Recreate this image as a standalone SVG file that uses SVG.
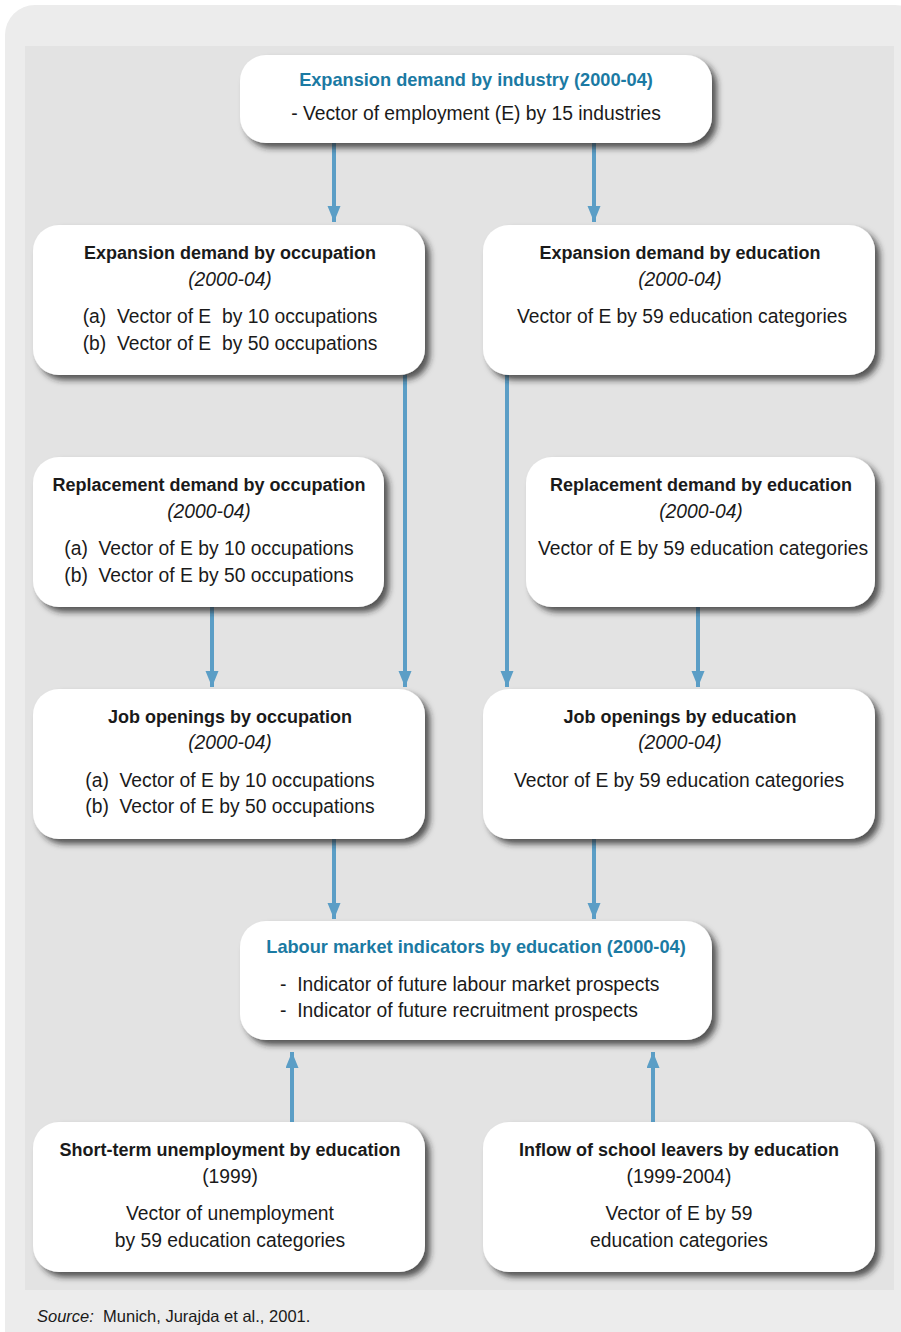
<svg xmlns="http://www.w3.org/2000/svg" width="901" height="1332" viewBox="0 0 901 1332">
<style>
text{font-family:"Liberation Sans",Arial,sans-serif;font-size:19.3px;fill:#1a1a1a;white-space:pre}
.t{font-weight:bold;font-size:18px}
.b{font-weight:bold;font-size:18.2px;fill:#1b7aa3}
.i{font-style:italic}
.c{text-anchor:middle}
.box{fill:#fff;filter:url(#sh)}
.arr{stroke:#5b9ec6;stroke-width:4;fill:none;marker-end:url(#ah)}
</style>
<defs>
<filter id="sh" x="-10%" y="-10%" width="125%" height="130%">
<feDropShadow dx="5" dy="5" stdDeviation="3" flood-color="#222" flood-opacity="0.75"/>
</filter>
<marker id="ah" markerWidth="18" markerHeight="14" refX="16" refY="6.5" orient="auto" markerUnits="userSpaceOnUse" viewBox="0 0 18 14">
<path d="M0,0 L16,6.5 L0,13 Z" fill="#5b9ec6"/>
</marker>
</defs>
<rect x="5" y="5" width="920" height="1360" rx="30" fill="#ececec"/>
<rect x="25" y="46" width="869" height="1244" fill="#e3e3e3"/>
<g id="connectors">
<line class="arr" x1="334" y1="143" x2="334" y2="222"/>
<line class="arr" x1="594" y1="143" x2="594" y2="222"/>
<line class="arr" x1="405" y1="375" x2="405" y2="687"/>
<line class="arr" x1="507" y1="375" x2="507" y2="687"/>
<line class="arr" x1="212" y1="607" x2="212" y2="687"/>
<line class="arr" x1="698" y1="607" x2="698" y2="687"/>
<line class="arr" x1="334" y1="839" x2="334" y2="919"/>
<line class="arr" x1="594" y1="839" x2="594" y2="919"/>
<line class="arr" x1="292" y1="1122" x2="292" y2="1052"/>
<line class="arr" x1="653" y1="1122" x2="653" y2="1052"/>
</g>
<g id="n-industry">
<rect class="box" x="240" y="55" width="472" height="88" rx="26"/>
<text class="b c" x="476" y="86">Expansion demand by industry (2000-04)</text>
<text class="c" x="476" y="120">- Vector of employment (E) by 15 industries</text>
</g>
<g id="n-exp-occ">
<rect class="box" x="33" y="225" width="392" height="150" rx="26"/>
<text class="t c" x="230" y="259">Expansion demand by occupation</text>
<text class="i c" x="230" y="286">(2000-04)</text>
<text class="c" x="230" y="323">(a)  Vector of E  by 10 occupations</text>
<text class="c" x="230" y="350">(b)  Vector of E  by 50 occupations</text>
</g>
<g id="n-exp-edu">
<rect class="box" x="483" y="225" width="392" height="150" rx="26"/>
<text class="t c" x="680" y="259">Expansion demand by education</text>
<text class="i c" x="680" y="286">(2000-04)</text>
<text class="c" x="682" y="323">Vector of E by 59 education categories</text>
</g>
<g id="n-rep-occ">
<rect class="box" x="33" y="457" width="351" height="150" rx="26"/>
<text class="t c" x="209" y="491">Replacement demand by occupation</text>
<text class="i c" x="209" y="518">(2000-04)</text>
<text class="c" x="209" y="555">(a)  Vector of E by 10 occupations</text>
<text class="c" x="209" y="582">(b)  Vector of E by 50 occupations</text>
</g>
<g id="n-rep-edu">
<rect class="box" x="526" y="457" width="349" height="150" rx="26"/>
<text class="t c" x="701" y="491">Replacement demand by education</text>
<text class="i c" x="701" y="518">(2000-04)</text>
<text class="c" x="703" y="555">Vector of E by 59 education categories</text>
</g>
<g id="n-job-occ">
<rect class="box" x="33" y="689" width="392" height="150" rx="26"/>
<text class="t c" x="230" y="723">Job openings by occupation</text>
<text class="i c" x="230" y="749">(2000-04)</text>
<text class="c" x="230" y="787">(a)  Vector of E by 10 occupations</text>
<text class="c" x="230" y="813">(b)  Vector of E by 50 occupations</text>
</g>
<g id="n-job-edu">
<rect class="box" x="483" y="689" width="392" height="150" rx="26"/>
<text class="t c" x="680" y="723">Job openings by education</text>
<text class="i c" x="680" y="749">(2000-04)</text>
<text class="c" x="679" y="787">Vector of E by 59 education categories</text>
</g>
<g id="n-labour">
<rect class="box" x="240" y="921" width="472" height="119" rx="26"/>
<text class="b c" x="476" y="953">Labour market indicators by education (2000-04)</text>
<text x="280" y="991">-  Indicator of future labour market prospects</text>
<text x="280" y="1017">-  Indicator of future recruitment prospects</text>
</g>
<g id="n-unemp">
<rect class="box" x="33" y="1122" width="392" height="150" rx="26"/>
<text class="t c" x="230" y="1156">Short-term unemployment by education</text>
<text class="c" x="230" y="1183">(1999)</text>
<text class="c" x="230" y="1220">Vector of unemployment</text>
<text class="c" x="230" y="1247">by 59 education categories</text>
</g>
<g id="n-inflow">
<rect class="box" x="483" y="1122" width="392" height="150" rx="26"/>
<text class="t c" x="679" y="1156">Inflow of school leavers by education</text>
<text class="c" x="679" y="1183">(1999-2004)</text>
<text class="c" x="679" y="1220">Vector of E by 59</text>
<text class="c" x="679" y="1247">education categories</text>
</g>
<text x="37" y="1322" style="font-size:16.5px"><tspan class="i">Source:</tspan>  Munich, Jurajda et al., 2001.</text>
</svg>
